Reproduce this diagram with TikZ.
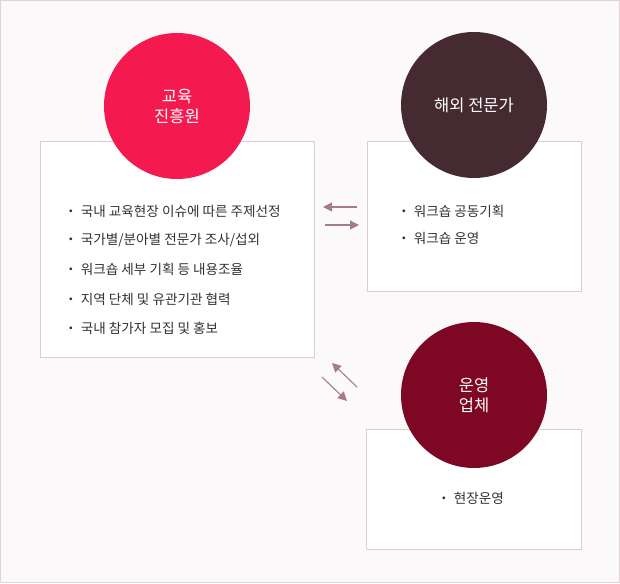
\documentclass[tikz,border=0pt]{standalone}
\usepackage{fontspec}
\setmainfont{Noto Sans CJK KR}
\usetikzlibrary{arrows.meta}
\definecolor{bgc}{HTML}{FCF9FA}
\definecolor{outerc}{HTML}{E3D3D9}
\definecolor{boxc}{HTML}{D9CDD1}
\definecolor{c1}{HTML}{F41A4F}
\definecolor{c2}{HTML}{452B31}
\definecolor{c3}{HTML}{7E0823}
\definecolor{arrc}{HTML}{A57C8C}
\definecolor{txtc}{HTML}{333333}
\tikzset{
  panel/.style={draw=boxc, fill=white, line width=0.8pt},
  role/.style={circle, minimum size=146pt, inner sep=0pt, text=white, font=\fontsize{16.5}{20}\selectfont, align=center},
  item/.style={anchor=west, text=txtc, font=\fontsize{13.6}{16}\selectfont, inner sep=0pt},
  flow/.style={draw=arrc, line width=1.1pt, -{Triangle[length=9pt,width=9pt]}}
}
\begin{document}
\begin{tikzpicture}[x=1pt,y=-1pt]
\draw[draw=outerc, fill=bgc, line width=1pt] (0.5,0.5) rectangle (619.5,582.5);
\useasboundingbox (0,0) rectangle (620,583);
% boxes
\draw[panel] (40,141) rectangle (314,357);
\draw[panel] (367,141) rectangle (581,291);
\draw[panel] (366,429) rectangle (581,549);
% circles
\node[role, fill=c1] (edu) at (177,106) {교육\\진흥원};
\node[role, fill=c2] (exp) at (474,105) {해외 전문가};
\node[role, fill=c3] (ops) at (474,395) {운영\\업체};
% box 1 items
\node[item] (a1) at (64,211) {・ 국내 교육현장 이슈에 따른 주제선정};
\node[item] (a2) at (64,240) {・ 국가별/분아별 전문가 조사/섭외};
\node[item] (a3) at (64,269) {・ 워크숍 세부 기획 등 내용조율};
\node[item] (a4) at (64,299) {・ 지역 단체 및 유관기관 협력};
\node[item] (a5) at (64,328) {・ 국내 참가자 모집 및 홍보};
\node[item] (b1) at (397,211) {・ 워크숍 공동기획};
\node[item] (b2) at (397,238) {・ 워크숍 운영};
\node[item] (c1t) at (437,498) {・ 현장운영};
% arrows
\coordinate (l1) at (357,207); \coordinate (l2) at (323,207);
\coordinate (r1) at (325,225); \coordinate (r2) at (359,225);
\coordinate (d1) at (357,387); \coordinate (d2) at (332,363);
\coordinate (e1) at (322,377); \coordinate (e2) at (347,401);
\draw[flow] (l1) -- (l2);
\draw[flow] (r1) -- (r2);
\draw[flow] (d1) -- (d2);
\draw[flow] (e1) -- (e2);
\end{tikzpicture}
\end{document}
